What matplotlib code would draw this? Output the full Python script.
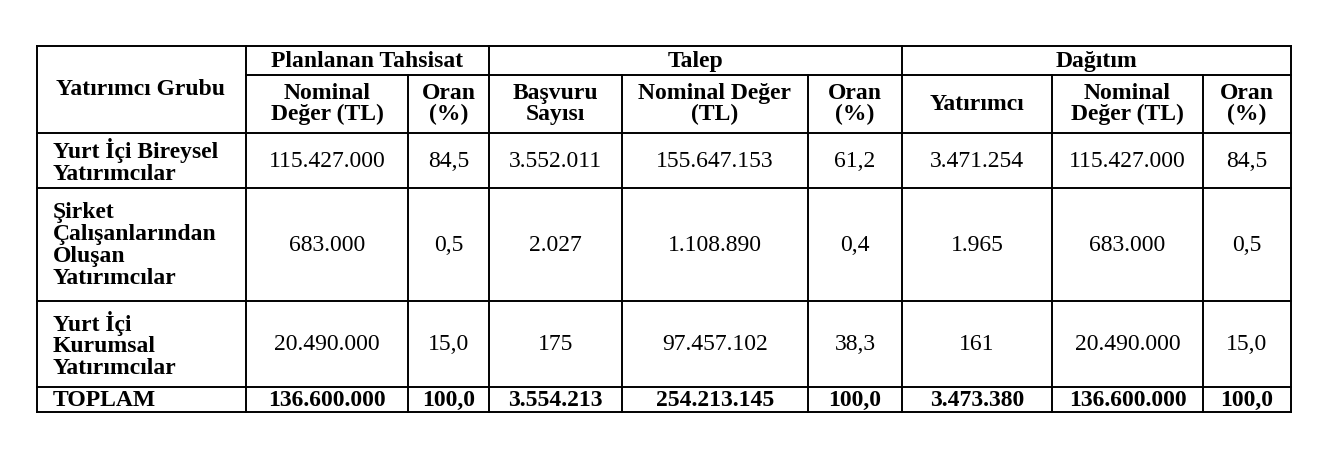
import matplotlib.pyplot as plt

plt.rcParams['font.family'] = ['Liberation Serif', 'DejaVu Serif']

groups = ['Planlanan Tahsisat', 'Talep', 'Dağıtım']
sub_headers = ['Nominal\nDeğer (TL)', 'Oran\n(%)', 'Başvuru\nSayısı', 'Nominal Değer\n(TL)',
               'Oran\n(%)', 'Yatırımcı', 'Nominal\nDeğer (TL)', 'Oran\n(%)']
row_labels = ['Yurt İçi Bireysel\nYatırımcılar', 'Şirket\nÇalışanlarından\nOluşan\nYatırımcılar',
              'Yurt İçi\nKurumsal\nYatırımcılar', 'TOPLAM']
values = [
    ['115.427.000', '84,5', '3.552.011', '155.647.153', '61,2', '3.471.254', '115.427.000', '84,5'],
    ['683.000', '0,5', '2.027', '1.108.890', '0,4', '1.965', '683.000', '0,5'],
    ['20.490.000', '15,0', '175', '97.457.102', '38,3', '161', '20.490.000', '15,0'],
    ['136.600.000', '100,0', '3.554.213', '254.213.145', '100,0', '3.473.380', '136.600.000', '100,0'],
]

# layout in pixels
col_x = [37, 246, 408, 489, 622, 808, 902, 1052, 1203, 1291]
row_y = [46, 75, 133, 188, 301, 387, 412]
group_spans = [(1, 3), (3, 6), (6, 9)]

fig = plt.figure(figsize=(13.3, 4.58), dpi=100)
ax = fig.add_axes([0, 0, 1, 1])
ax.set_xlim(0, 1330)
ax.set_ylim(458, 0)
ax.axis('off')

lw = 1.4
fs = 17
ls = 1.05

# outer border and horizontal lines
for y in [row_y[0]] + row_y[2:]:
    ax.plot([col_x[0], col_x[-1]], [y, y], color='black', lw=lw)
ax.plot([col_x[1], col_x[-1]], [row_y[1], row_y[1]], color='black', lw=lw)
# vertical lines
for i, x in enumerate(col_x):
    top = row_y[0] if i in (0, 1, 3, 6, 9) else row_y[1]
    ax.plot([x, x], [top, row_y[-1]], color='black', lw=lw)

# header
ax.text(141, (row_y[0] + row_y[2]) / 2, 'Yatırımcı Grubu', ha='center', va='center',
        fontsize=fs, fontweight='bold')
for g, (a, b) in zip(groups, group_spans):
    ax.text((col_x[a] + col_x[b]) / 2, (row_y[0] + row_y[1]) / 2 + 1, g, ha='center',
            va='center', fontsize=fs, fontweight='bold')
for j, h in enumerate(sub_headers):
    ax.text((col_x[j + 1] + col_x[j + 2]) / 2, (row_y[1] + row_y[2]) / 2, h, ha='center',
            va='center', fontsize=fs, fontweight='bold', linespacing=ls)

# body
for i, (lab, vals) in enumerate(zip(row_labels, values)):
    yc = (row_y[i + 2] + row_y[i + 3]) / 2 + 1
    bold = 'bold' if lab == 'TOPLAM' else 'normal'
    ax.text(53, yc, lab, ha='left', va='center', fontsize=fs, fontweight='bold', linespacing=ls)
    for j, v in enumerate(vals):
        ax.text((col_x[j + 1] + col_x[j + 2]) / 2, yc, v, ha='center', va='center',
                fontsize=fs, fontweight=bold)

plt.savefig('out.png', dpi=100, facecolor='white')
